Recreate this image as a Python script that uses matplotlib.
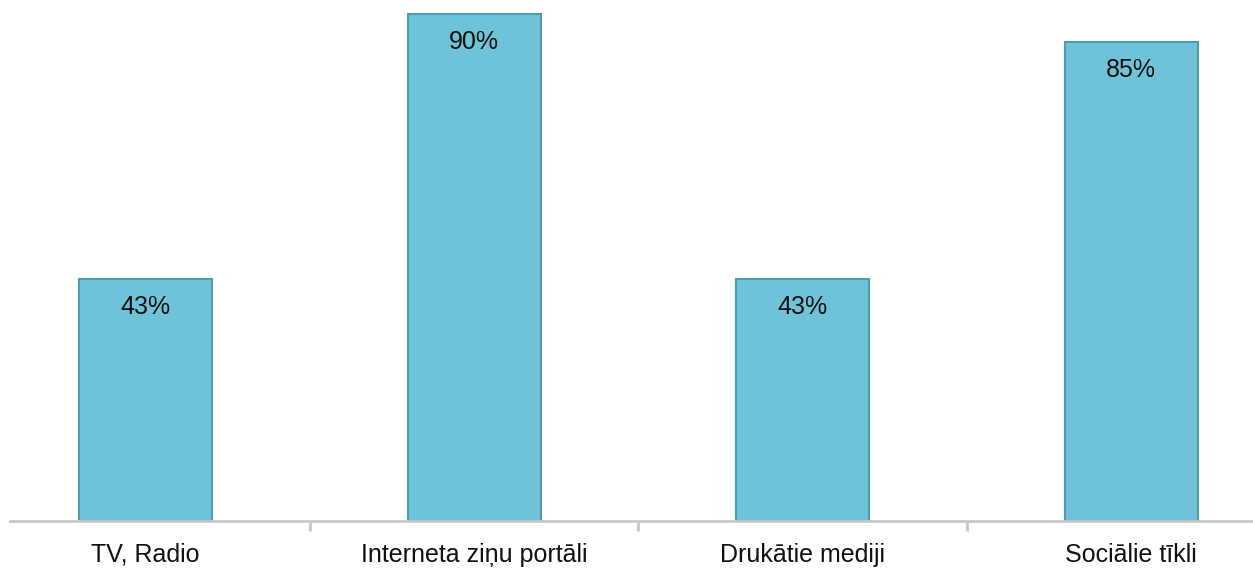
import matplotlib.pyplot as plt
import numpy as np

kategorijas = ['TV, Radio', 'Interneta ziņu portāli', 'Drukātie mediji', 'Sociālie tīkli']
vertibas = [43, 90, 43, 85]

plt.rcParams['font.family'] = ['Liberation Sans', 'DejaVu Sans']

fig = plt.figure(figsize=(12.53, 5.68), dpi=100)
ax = fig.add_axes([10/1253, 47/568, 1 - 10/1253, 521/568])

x = np.arange(len(kategorijas))
bars = ax.bar(x, vertibas, width=0.405, color='#6fc3d8', edgecolor='#4f9db2', linewidth=1.5)

for xi, v in zip(x, vertibas):
    ax.text(xi, v - 5.0, f'{v}%', ha='center', va='center', fontsize=18, color='#111111')

ax.set_xlim(-0.4125, 3.371)
ax.set_ylim(0, 92.5)

for s in ['top', 'right', 'left']:
    ax.spines[s].set_visible(False)
ax.spines['bottom'].set_color('#c8c8c8')
ax.spines['bottom'].set_linewidth(2)

ax.set_yticks([])
ax.set_xticks(x)
ax.set_xticklabels(kategorijas, fontsize=18, color='#111111')
ax.tick_params(axis='x', which='major', length=0, pad=15.5)
ax.set_xticks([0.5, 1.5, 2.5], minor=True)
ax.tick_params(axis='x', which='minor', length=7, width=2, color='#c8c8c8')

fig.savefig('out.png', dpi=100)
